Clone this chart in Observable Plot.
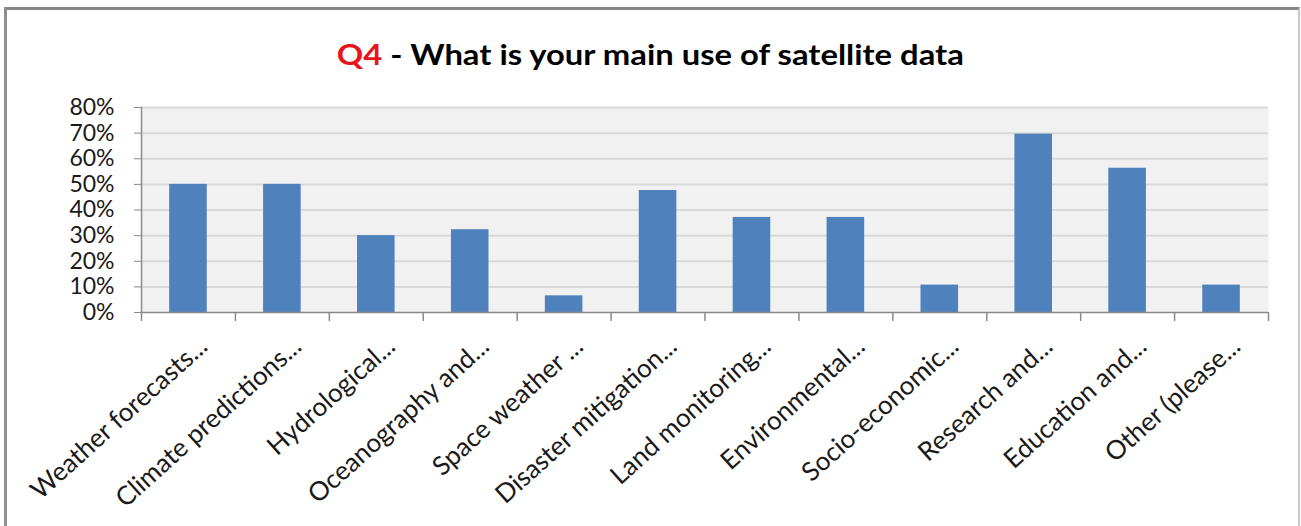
<!DOCTYPE html>
<html><head><meta charset="utf-8">
<script src="https://cdn.jsdelivr.net/npm/d3@7"></script>
<script src="https://cdn.jsdelivr.net/npm/@observablehq/plot@0.6"></script>
<style>
body{margin:0;background:#fff;}
#wrap{position:relative;width:1301px;height:526px;overflow:hidden;font-family:Lato,sans-serif;background:#fff;}
#frame{position:absolute;left:4px;top:7px;width:1296px;height:530px;border-left:3px solid #8f8f8f;border-top:3px solid #888;border-right:2px solid #c8c8c8;box-sizing:border-box;}
#title{position:absolute;left:0;width:1301px;top:35px;text-align:center;font-weight:bold;font-size:29px;color:#000;line-height:38px;transform:scaleX(1.13);transform-origin:652px 0;}
#chart{position:absolute;left:0;top:90px;}
</style></head><body>
<div id="wrap"><div id="frame"></div><div id="title"><span style="color:#e8141b">Q4</span> - What is your main use of satellite data</div><div id="chart"></div></div>
<script>
const categories = ["Weather forecasts...", "Climate predictions...", "Hydrological...", "Oceanography and...", "Space weather ...", "Disaster mitigation...", "Land monitoring...", "Environmental...", "Socio-economic...", "Research and...", "Education and...", "Other (please..."];
const values = [0.50, 0.50, 0.30, 0.323, 0.065, 0.476, 0.371, 0.371, 0.107, 0.696, 0.563, 0.107];
const yTicks = [0, 0.1, 0.2, 0.3, 0.4, 0.5, 0.6, 0.7, 0.8];

const data = categories.map((c, i) => ({cat: c, v: values[i]}));
const W = 1301, H = 436, mL = 141, mR = 33, mT = 17, mB = 214;
const step = (W - mL - mR) / categories.length;
const last = categories[categories.length - 1];

const plot = Plot.plot({
  width: W, height: H,
  marginLeft: mL, marginRight: mR, marginTop: mT, marginBottom: mB,
  style: {fontFamily: "Lato, sans-serif", background: "transparent", color: "#1a1a1a", overflow: "visible"},
  x: {domain: categories, paddingInner: 0.6, paddingOuter: 0.3, round: false, label: null},
  y: {domain: [0, 0.8], label: null},
  marks: [
    Plot.frame({fill: "#f1f1f1", stroke: null}),
    Plot.ruleY(yTicks.slice(1), {stroke: "#d9d9d9", strokeWidth: 2}),
    Plot.barY(data, {x: "cat", y: "v", fill: "#4f81bd"}),
    Plot.ruleY([0], {stroke: "#8a8a8a", strokeWidth: 1.5}),
    Plot.frame({anchor: "left", stroke: "#8a8a8a", strokeWidth: 1.5}),
    Plot.ruleX(categories, {x: d => d, dx: -step / 2, y1: 0, y2: -0.035, stroke: "#8a8a8a", strokeWidth: 1.5}),
    Plot.ruleX([last], {x: d => d, dx: step / 2, y1: 0, y2: -0.035, stroke: "#8a8a8a", strokeWidth: 1.5}),
    Plot.axisY({ticks: yTicks, tickFormat: d3.format(".0%"), tickSize: 7, tickPadding: 20, fontSize: 23, stroke: "#8a8a8a", label: null}),
    Plot.axisX({tickRotate: -42, tickSize: 0, tickPadding: 30, dx: 15, fontSize: 26, textAnchor: "end", label: null})
  ]
});
document.getElementById("chart").appendChild(plot);
</script>
</body></html>
